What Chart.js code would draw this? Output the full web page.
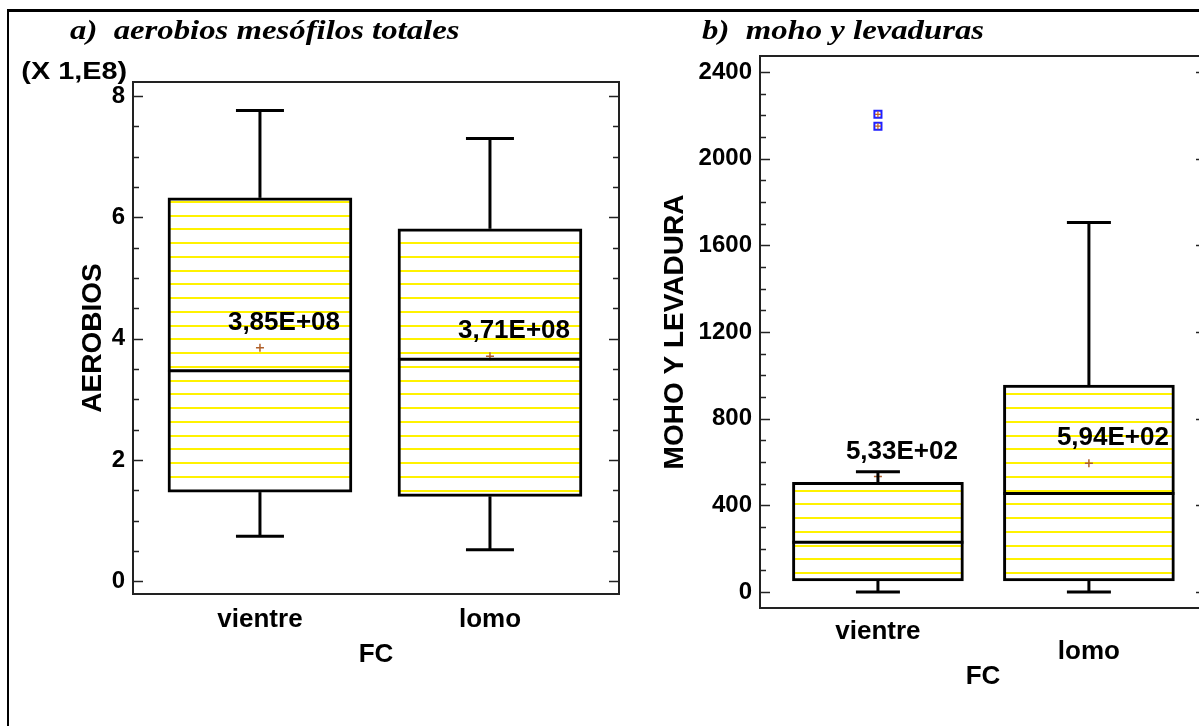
<!DOCTYPE html>
<html>
<head>
<meta charset="utf-8">
<title>Box plots FC</title>
<script src="https://cdn.jsdelivr.net/npm/chart.js@4.4.0/dist/chart.umd.min.js"></script>
<style>
  html, body { margin: 0; padding: 0; background: #fff; overflow: hidden; width: 1199px; height: 726px; }
  #cadre { position: absolute; left: 7px; top: 9px; width: 1400px; height: 900px; border-left: 2px solid #000; border-top: 3px solid #000; }
  #graphA { position: absolute; left: 0; top: 0; }
  #graphB { position: absolute; left: 640px; top: 0; }
</style>
</head>
<body>
<div id="cadre"></div>
<canvas id="graphA" width="640" height="726"></canvas>
<canvas id="graphB" width="580" height="726"></canvas>
<script>
// Catégories (FC)
const categories = ['vientre', 'lomo'];
const categoryPos = [1, 2];

// a) aerobios mesófilos totales (X 1,E8)
const aeroMin = [0.74, 0.52];
const aeroQ1 = [1.47, 1.40];
const aeroMedian = [3.47, 3.66];
const aeroQ3 = [6.32, 5.81];
const aeroMax = [7.76, 7.30];
const aeroMean = [3.85, 3.71];
const aeroMeanLabels = ['3,85E+08', '3,71E+08'];
const aeroTicks = [0, 2, 4, 6, 8];

// b) moho y levaduras
const mohoMin = [0, 0];
const mohoQ1 = [51, 51];
const mohoMedian = [229, 455];
const mohoQ3 = [506, 955];
const mohoMax = [555, 1706];
const mohoMean = [533, 594];
const mohoMeanLabels = ['5,33E+02', '5,94E+02'];
const mohoOutlierCat = [1, 1];
const mohoOutliers = [2205, 2150];
const mohoTicks = [0, 400, 800, 1200, 1600, 2000, 2400];

const SANS = '"Liberation Sans", Arial, sans-serif';
const SERIF = '"Liberation Serif", "Times New Roman", serif';

// Motif de hachures jaunes (4 lignes sur 55 px => pas de ~13,75 px)
function motifHachures() {
    const c = document.createElement('canvas');
    c.width = 8;
    c.height = 55;
    const g = c.getContext('2d');
    g.fillStyle = '#fff';
    g.fillRect(0, 0, 8, 55);
    g.fillStyle = '#fff200';
    [9, 23, 37, 51].forEach(y => g.fillRect(0, y - 1, 8, 2));
    return g.createPattern(c, 'repeat');
}

function ligne(ctx, x1, y1, x2, y2) {
    ctx.beginPath();
    ctx.moveTo(x1, y1);
    ctx.lineTo(x2, y2);
    ctx.stroke();
}

// Texte étiré horizontalement (le titre et le facteur sont plus larges que hauts)
function texteEtire(ctx, txt, x, y, sx) {
    ctx.save();
    ctx.translate(x, y);
    ctx.scale(sx, 1);
    ctx.fillText(txt, 0, 0);
    ctx.restore();
}

// Construit un graphique boîte à moustaches
function creerGraphique(canvasId, cfg) {
    const ctx = document.getElementById(canvasId).getContext('2d');

    const datasets = [{
        type: 'bar',
        data: categoryPos.map((x, i) => ({ x: x, y: [cfg.q1[i], cfg.q3[i]] })),
        backgroundColor: motifHachures(),
        borderColor: '#000',
        borderWidth: 3,
        borderSkipped: false,
        barThickness: cfg.boxWidth,
        order: 5
    }, {
        type: 'scatter',
        data: categoryPos.map((x, i) => ({ x: x, y: cfg.mean[i] })),
        pointStyle: 'cross',
        radius: 4,
        borderColor: '#b0602a',
        borderWidth: 1.5,
        order: 1
    }];

    if (cfg.outliers) {
        const pts = cfg.outliers.map((v, i) => ({ x: cfg.outlierCat[i], y: v }));
        datasets.push({
            type: 'scatter', data: pts, pointStyle: 'rect', radius: 5,
            borderColor: '#2020ff', backgroundColor: 'rgba(255,255,255,0)', borderWidth: 2, order: 2
        });
        datasets.push({
            type: 'scatter', data: pts, pointStyle: 'cross', radius: 3,
            borderColor: '#c06020', borderWidth: 1.2, order: 1
        });
    }

    const cajas = {
        id: 'cajas_' + canvasId,
        afterDatasetsDraw(chart) {
            const c = chart.ctx;
            const x = chart.scales.x, y = chart.scales.y;
            c.save();
            c.strokeStyle = '#000';
            c.lineWidth = 3;
            categoryPos.forEach((v, i) => {
                const px = x.getPixelForValue(v);
                const half = cfg.boxWidth / 2, cap = cfg.capWidth / 2;
                const ym = y.getPixelForValue(cfg.median[i]);
                ligne(c, px - half, ym, px + half, ym);
                // moustache haute
                const yMax = y.getPixelForValue(cfg.max[i]);
                ligne(c, px, y.getPixelForValue(cfg.q3[i]), px, yMax);
                ligne(c, px - cap, yMax, px + cap, yMax);
                // moustache basse
                const yMin = y.getPixelForValue(cfg.min[i]);
                ligne(c, px, y.getPixelForValue(cfg.q1[i]), px, yMin);
                ligne(c, px - cap, yMin, px + cap, yMin);
            });
            c.restore();
        },
        afterDraw(chart) {
            const c = chart.ctx;
            const a = chart.chartArea;
            const x = chart.scales.x, y = chart.scales.y;
            c.save();
            // cadre
            c.strokeStyle = '#222';
            c.lineWidth = 2;
            c.strokeRect(a.left, a.top, a.right - a.left, a.bottom - a.top);
            // graduations intérieures
            c.lineWidth = 1.5;
            for (let v = cfg.tickStart; v <= y.max + 1e-9; v += cfg.minorStep) {
                const py = Math.round(y.getPixelForValue(v)) + 0.5;
                const major = Math.abs(v / cfg.majorStep - Math.round(v / cfg.majorStep)) < 1e-6;
                const len = major ? 10 : 6;
                ligne(c, a.left, py, a.left + len, py);
                ligne(c, a.right - len, py, a.right, py);
            }
            c.fillStyle = '#000';
            // titre du panneau
            c.font = 'italic bold 28px ' + SERIF;
            c.textAlign = 'left';
            c.textBaseline = 'alphabetic';
            texteEtire(c, cfg.title, cfg.titleX, 39, 1.17);
            // étiquettes de moyenne
            c.font = 'bold 26px ' + SANS;
            c.textAlign = 'center';
            c.textBaseline = 'middle';
            categoryPos.forEach((v, i) => {
                c.fillText(cfg.meanLabels[i], x.getPixelForValue(v) + 24, y.getPixelForValue(cfg.mean[i]) - 25);
            });
            // étiquettes de l'axe X
            categories.forEach((lab, i) => {
                c.fillText(lab, x.getPixelForValue(categoryPos[i]), a.bottom + cfg.catOffset[i]);
            });
            c.fillText('FC', (a.left + a.right) / 2, a.bottom + cfg.fcOffset);
            // titre de l'axe Y
            c.font = 'bold 28px ' + SANS;
            c.save();
            c.translate(cfg.yTitleX, (a.top + a.bottom) / 2);
            c.rotate(-Math.PI / 2);
            c.fillText(cfg.yTitle, 0, 0);
            c.restore();
            if (cfg.factor) {
                c.font = 'bold 24px ' + SANS;
                c.textAlign = 'right';
                texteEtire(c, cfg.factor, a.left - 6, a.top - 10, 1.2);
            }
            c.restore();
        }
    };

    return new Chart(ctx, {
        type: 'bar',
        data: { datasets: datasets },
        options: {
            responsive: false,
            animation: false,
            events: [],
            layout: { padding: cfg.padding },
            plugins: { legend: { display: false }, tooltip: { enabled: false } },
            scales: {
                x: { type: 'linear', min: cfg.xMin, max: cfg.xMax, offset: false, display: false },
                y: {
                    type: 'linear',
                    min: cfg.yMin,
                    max: cfg.yMax,
                    afterBuildTicks: s => { s.ticks = cfg.ticks.map(v => ({ value: v })); },
                    afterFit: s => { s.width = cfg.yWidth; },
                    grid: { display: false, drawTicks: false },
                    border: { display: false },
                    ticks: {
                        color: '#000',
                        padding: 8,
                        font: { family: SANS, size: 24, weight: 'bold' },
                        callback: v => String(v)
                    }
                }
            }
        },
        plugins: [cajas]
    });
}

creerGraphique('graphA', {
    min: aeroMin, q1: aeroQ1, median: aeroMedian, q3: aeroQ3, max: aeroMax,
    mean: aeroMean, meanLabels: aeroMeanLabels, ticks: aeroTicks,
    yMin: -0.21, yMax: 8.23, xMin: 0.448, xMax: 2.561,
    tickStart: 0, minorStep: 0.5, majorStep: 2,
    boxWidth: 184, capWidth: 48, yWidth: 133,
    padding: { left: 0, top: 82, right: 21, bottom: 132 },
    title: 'a)  aerobios mesófilos totales', titleX: 70,
    yTitle: 'AEROBIOS', yTitleX: 93, factor: '(X 1,E8)',
    catOffset: [26, 26], fcOffset: 61
});

creerGraphique('graphB', {
    min: mohoMin, q1: mohoQ1, median: mohoMedian, q3: mohoQ3, max: mohoMax,
    mean: mohoMean, meanLabels: mohoMeanLabels, ticks: mohoTicks,
    outliers: mohoOutliers, outlierCat: mohoOutlierCat,
    yMin: -74, yMax: 2474, xMin: 0.441, xMax: 2.555,
    tickStart: 0, minorStep: 100, majorStep: 400,
    boxWidth: 171, capWidth: 44, yWidth: 120,
    padding: { left: 0, top: 56, right: 14, bottom: 118 },
    title: 'b)  moho y levaduras', titleX: 62,
    yTitle: 'MOHO Y LEVADURA', yTitleX: 35,
    catOffset: [24, 44], fcOffset: 69
});
</script>
</body>
</html>
